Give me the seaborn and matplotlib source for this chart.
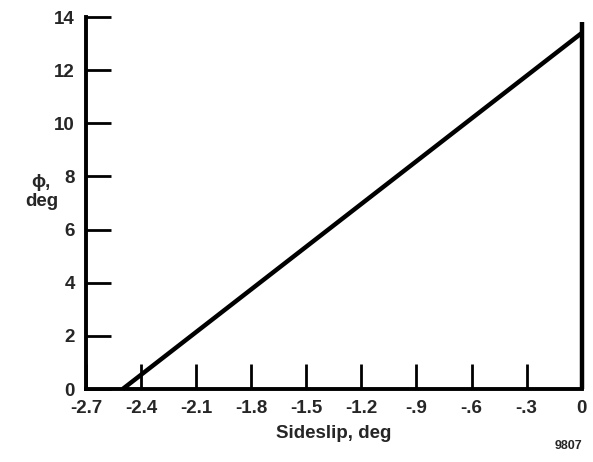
import matplotlib
matplotlib.use("Agg")
import matplotlib.pyplot as plt
import seaborn as sns
import pandas as pd

sideslip = [-2.5, 0.0]
phi = [0.0, 13.4]
edge_x = [0.0, 0.0]
edge_y = [0.0, 13.8]
xticks = [-2.7, -2.4, -2.1, -1.8, -1.5, -1.2, -0.9, -0.6, -0.3, 0.0]
xticklabels = ["-2.7", "-2.4", "-2.1", "-1.8", "-1.5", "-1.2", "-.9", "-.6", "-.3", "0"]
yticks = [0, 2, 4, 6, 8, 10, 12, 14]

sns.set_style("white")
plt.rcParams['font.family'] = ['Liberation Sans', 'DejaVu Sans']
plt.rcParams['font.weight'] = 'bold'

fig = plt.figure(figsize=(5.93, 4.62), dpi=100)
ax = fig.add_axes([0.145, 0.158, 0.836, 0.805])

df = pd.DataFrame({"x": sideslip, "y": phi})
sns.lineplot(data=df, x="x", y="y", ax=ax, color="black", lw=3.2, sort=False, estimator=None)
df2 = pd.DataFrame({"x": edge_x, "y": edge_y})
sns.lineplot(data=df2, x="x", y="y", ax=ax, color="black", lw=3.2, sort=False, estimator=None)
for ln in ax.lines:
    ln.set_clip_on(False)
    ln.set_solid_capstyle('butt')

ax.set_xlim(-2.7, 0)
ax.set_ylim(0, 14)
ax.set_xticks(xticks)
ax.set_xticklabels(xticklabels)
ax.set_yticks(yticks)
ax.tick_params(axis='both', direction='in', length=18, width=2, labelsize=13.5,
               color='black', bottom=True, left=True)
ax.tick_params(axis='x', pad=8)
ax.tick_params(axis='y', pad=8)
for lab in ax.get_xticklabels() + ax.get_yticklabels():
    lab.set_fontweight('bold')

for s in ['top', 'right']:
    ax.spines[s].set_visible(False)
for s in ['left', 'bottom']:
    ax.spines[s].set_linewidth(2.8)
    ax.spines[s].set_color('black')
ax.set_xlabel("Sideslip, deg", fontsize=13.5, fontweight='bold', labelpad=6)
ax.set_ylabel("ϕ,\ndeg", fontsize=13.5, fontweight='bold', rotation=0, va='center')
ax.yaxis.set_label_coords(-0.09, 0.53)
fig.text(0.958, 0.028, "9807", fontsize=9, fontweight='bold', ha='center')

fig.savefig("out.png", dpi=100)
